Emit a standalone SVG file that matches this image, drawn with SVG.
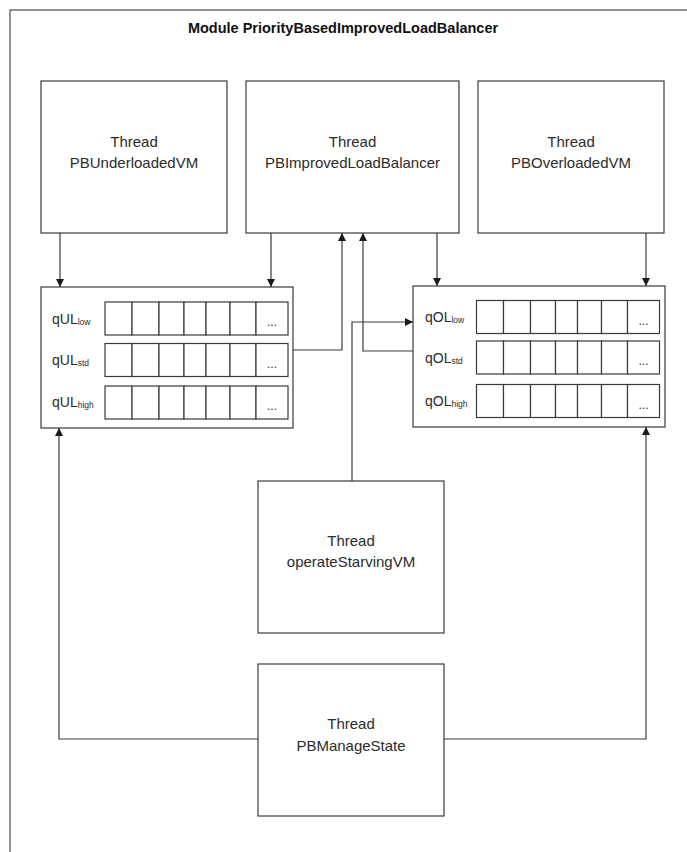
<svg xmlns="http://www.w3.org/2000/svg" width="687" height="852" viewBox="0 0 687 852">
  <style>
    .frame { fill: none; stroke: #595959; stroke-width: 1.3; }
    .box { fill: #ffffff; stroke: #3a3a3a; stroke-width: 1.2; }
    .cell { fill: #ffffff; stroke: #3a3a3a; stroke-width: 1.2; }
    .wire { fill: none; stroke: #3a3a3a; stroke-width: 1.2; }
    .title { font-family: "Liberation Sans", Arial, sans-serif; font-size: 14.5px; font-weight: bold; fill: #111111; text-anchor: middle; }
    .label { font-family: "Liberation Sans", Arial, sans-serif; font-size: 15px; fill: #2b2b2b; text-anchor: middle; }
    .q { font-family: "Liberation Sans", Arial, sans-serif; font-size: 14px; fill: #2b2b2b; }
    .sub { font-size: 8.5px; }
    .dots { font-family: "Liberation Sans", Arial, sans-serif; font-size: 12px; fill: #2b2b2b; text-anchor: middle; }
  </style>
  <defs>
    <marker id="arrow" viewBox="0 0 10 10" refX="10" refY="5" markerWidth="8" markerHeight="8" markerUnits="userSpaceOnUse" orient="auto">
      <path d="M0,0 L10,5 L0,10 Z" fill="#1a1a1a"/>
    </marker>
    <!-- one queue row: seven cells, the last one holds an ellipsis -->
    <g id="qrow">
      <rect class="cell" x="0" y="0" width="27" height="33"/>
      <rect class="cell" x="27" y="0" width="27" height="33"/>
      <rect class="cell" x="54" y="0" width="25" height="33"/>
      <rect class="cell" x="79" y="0" width="22" height="33"/>
      <rect class="cell" x="101" y="0" width="24" height="33"/>
      <rect class="cell" x="125" y="0" width="26" height="33"/>
      <rect class="cell" x="151" y="0" width="32" height="33"/>
      <text class="dots" x="167" y="24">...</text>
    </g>
  </defs>

  <rect id="module-frame" class="frame" x="10" y="10" width="700" height="860"/>
  <text class="title" x="343" y="33">Module PriorityBasedImprovedLoadBalancer</text>

  <!-- connectors -->
  <g id="connectors">
    <path class="wire" d="M60,233 V287" marker-end="url(#arrow)"/>
    <path class="wire" d="M271,233 V287" marker-end="url(#arrow)"/>
    <path class="wire" d="M437,233 V286" marker-end="url(#arrow)"/>
    <path class="wire" d="M646,233 V286" marker-end="url(#arrow)"/>
    <path class="wire" d="M293,350 H342 V233" marker-end="url(#arrow)"/>
    <path class="wire" d="M413,351 H363 V233" marker-end="url(#arrow)"/>
    <path class="wire" d="M352,481 V322 H413" marker-end="url(#arrow)"/>
    <path class="wire" d="M259,739 H59 V428" marker-end="url(#arrow)"/>
    <path class="wire" d="M444,739 H646 V427" marker-end="url(#arrow)"/>
  </g>

  <g id="thread-underloaded">
    <rect class="box" x="41" y="81" width="186" height="152"/>
    <text class="label" x="134" y="147">Thread</text>
    <text class="label" x="134" y="168">PBUnderloadedVM</text>
  </g>

  <g id="thread-balancer">
    <rect class="box" x="246" y="81" width="213" height="152"/>
    <text class="label" x="352.5" y="147">Thread</text>
    <text class="label" x="352.5" y="168">PBImprovedLoadBalancer</text>
  </g>

  <g id="thread-overloaded">
    <rect class="box" x="478" y="81" width="186" height="152"/>
    <text class="label" x="571" y="147">Thread</text>
    <text class="label" x="571" y="168">PBOverloadedVM</text>
  </g>

  <g id="queues-underloaded">
    <rect class="box" x="41" y="287" width="252" height="141"/>
    <use href="#qrow" x="105" y="302"/>
    <use href="#qrow" x="105" y="343.5"/>
    <use href="#qrow" x="105" y="386"/>
    <text class="q" x="52" y="324">qUL<tspan class="sub" dy="1">low</tspan></text>
    <text class="q" x="52" y="365">qUL<tspan class="sub" dy="1">std</tspan></text>
    <text class="q" x="52" y="407">qUL<tspan class="sub" dy="1">high</tspan></text>
  </g>

  <g id="queues-overloaded">
    <rect class="box" x="413" y="286" width="252" height="141"/>
    <use href="#qrow" x="476.5" y="300.5"/>
    <use href="#qrow" x="476.5" y="341"/>
    <use href="#qrow" x="476.5" y="384.5"/>
    <text class="q" x="425" y="322">qOL<tspan class="sub" dy="1">low</tspan></text>
    <text class="q" x="425" y="363">qOL<tspan class="sub" dy="1">std</tspan></text>
    <text class="q" x="425" y="406">qOL<tspan class="sub" dy="1">high</tspan></text>
  </g>

  <g id="thread-starving">
    <rect class="box" x="258" y="481" width="186" height="152"/>
    <text class="label" x="351" y="546">Thread</text>
    <text class="label" x="351" y="567">operateStarvingVM</text>
  </g>

  <g id="thread-manage-state">
    <rect class="box" x="258" y="664" width="186" height="152"/>
    <text class="label" x="351" y="729">Thread</text>
    <text class="label" x="351" y="751">PBManageState</text>
  </g>
</svg>
